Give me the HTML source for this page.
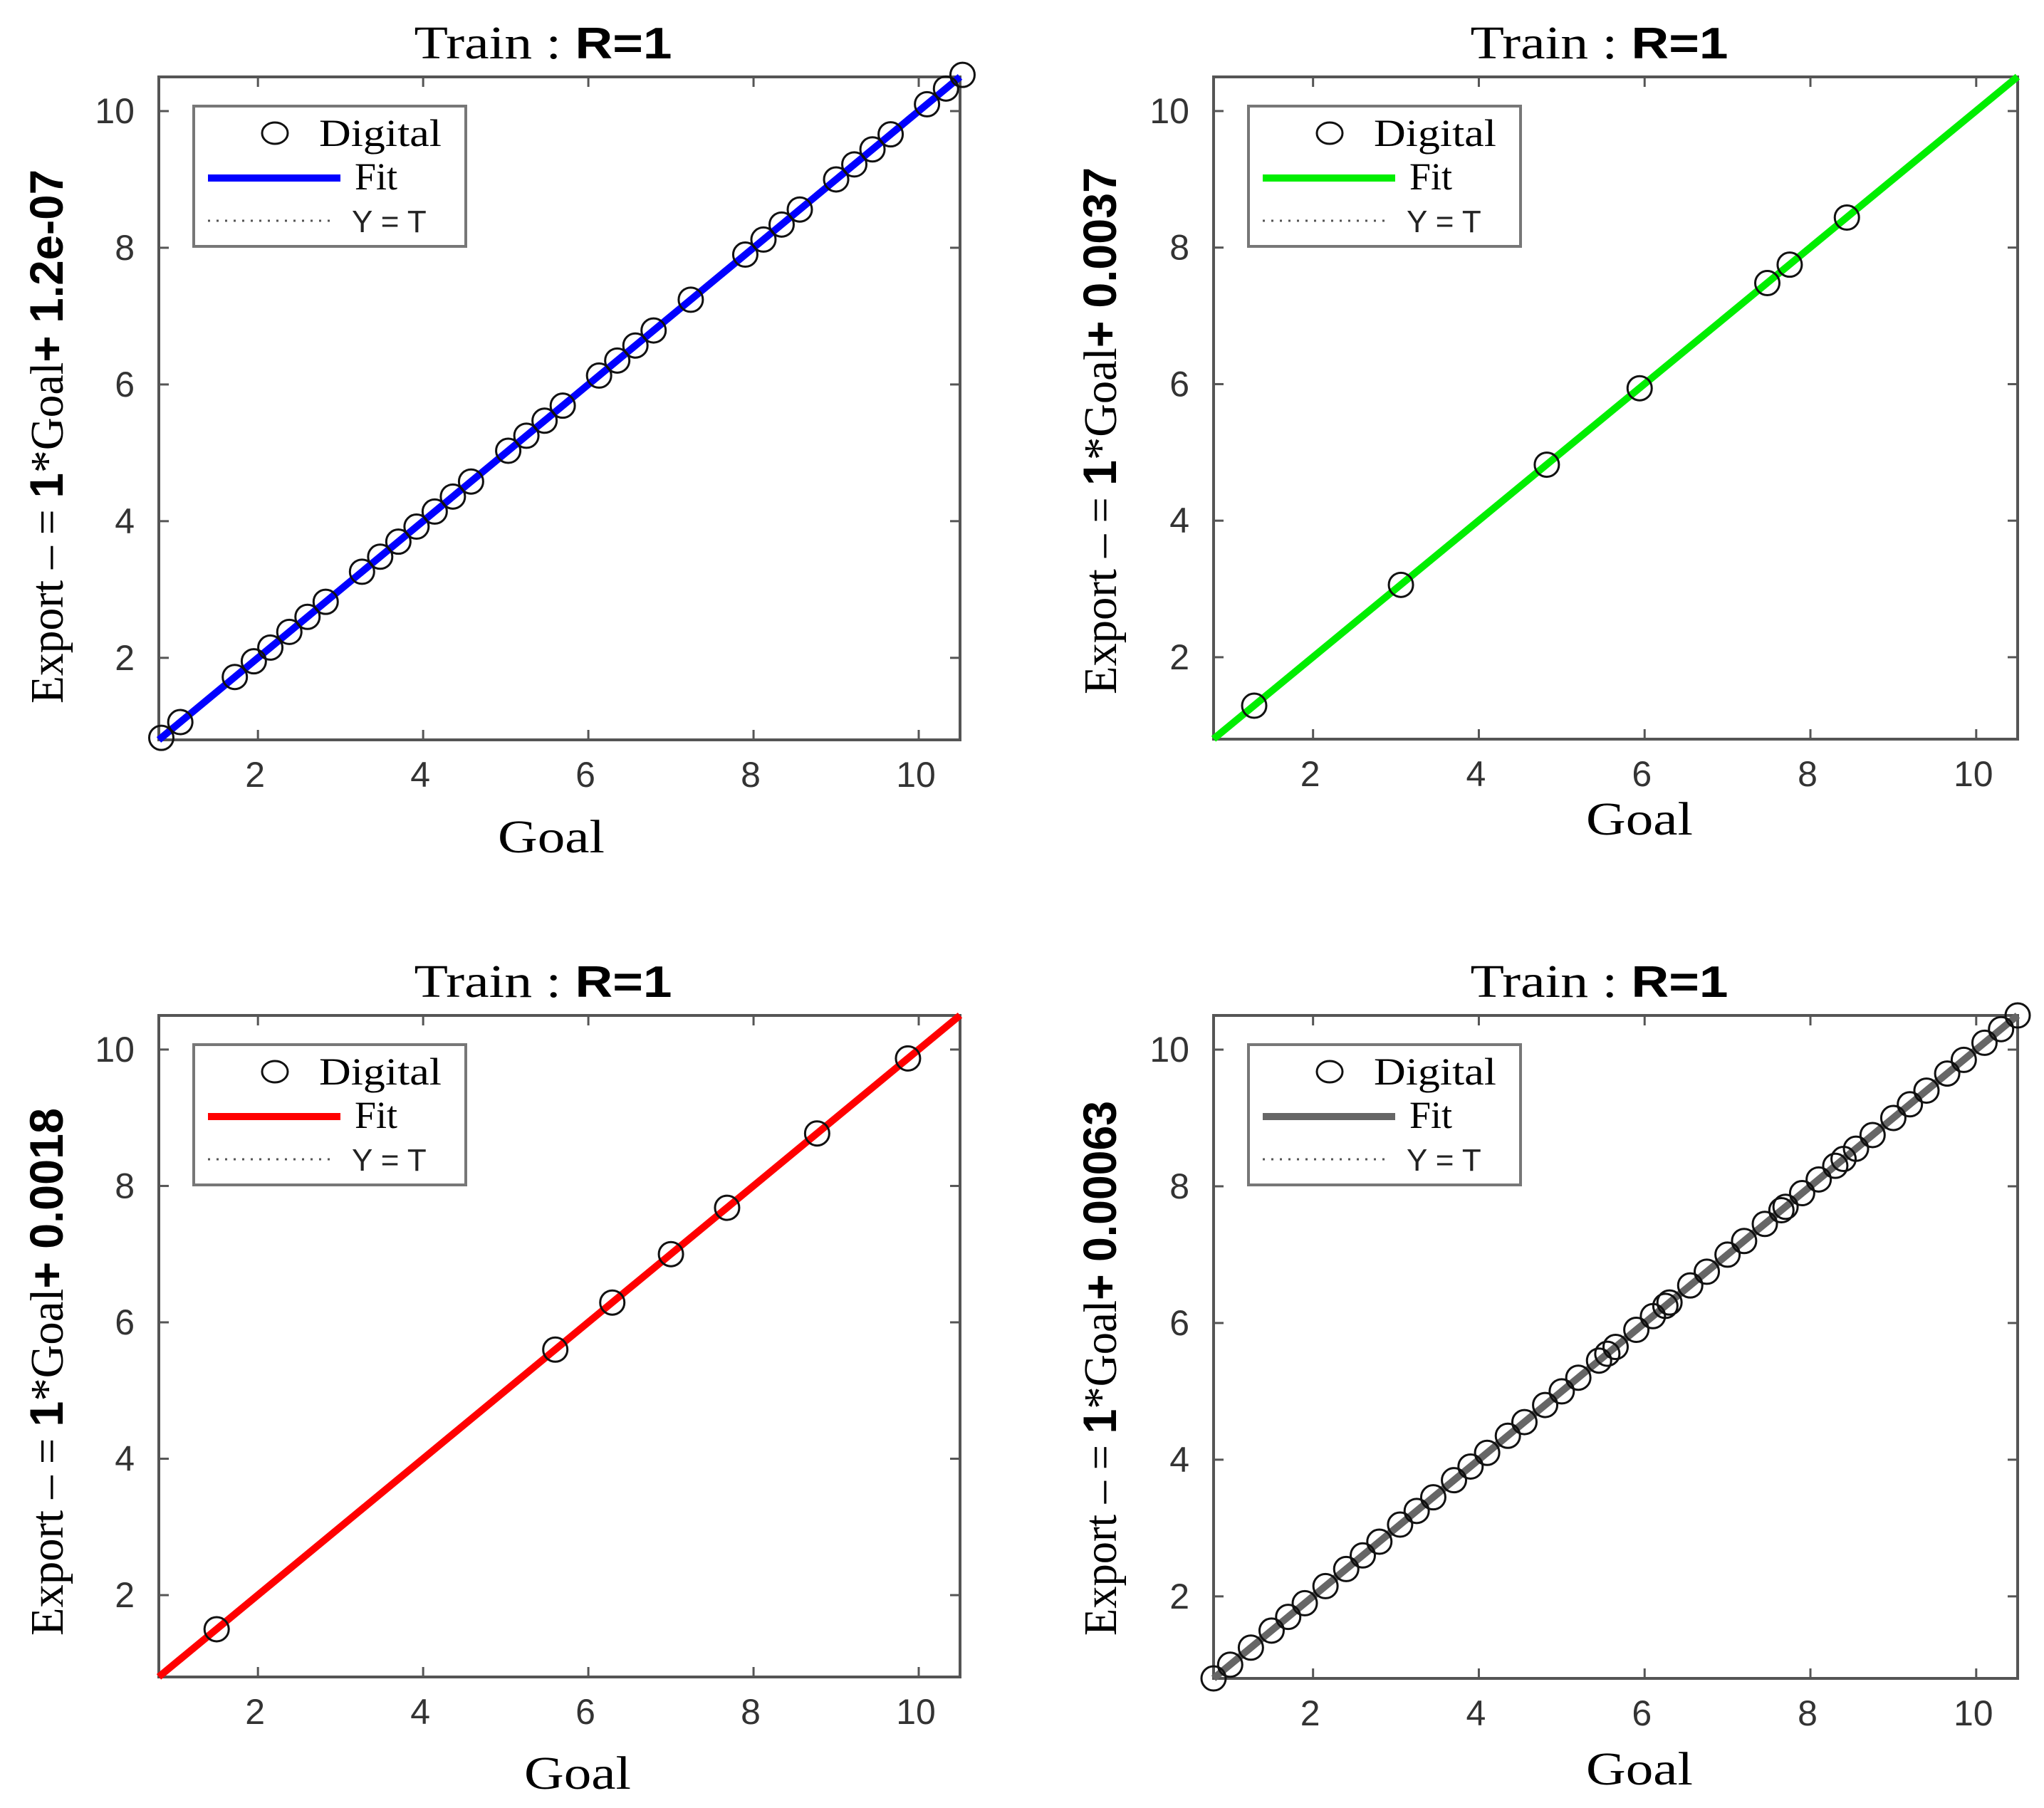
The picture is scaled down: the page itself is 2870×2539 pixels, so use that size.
<!DOCTYPE html>
<html><head><meta charset="utf-8"><style>
html,body{margin:0;padding:0;background:#fff;}
svg{display:block;}
</style></head><body>
<svg id="fig" xmlns="http://www.w3.org/2000/svg" width="2870" height="2539" viewBox="0 0 2870 2539"></svg>
<script>
// ---- data ----
const panelNames = ["top-left","top-right","bottom-left","bottom-right"];
const fitColors = ["#0000ff","#00ee00","#ff0000","#666666"];
const fitSlopes = [1,1,1,1];
const fitIntercepts = [1.2e-7,0.0037,0.0018,0.00063];
const yLabelCoef = ["+ 1.2e-07","+ 0.0037","+ 0.0018","+ 0.00063"];
const xTicks = [2,4,6,8,10];
const yTicks = [2,4,6,8,10];
const tickLabels = ["2","4","6","8","10"];
const xDomain = [0.8,10.5];
const yDomain = [0.8,10.5];
const tlX = [0.83,1.06,1.72,1.95,2.15,2.38,2.6,2.82,3.26,3.48,3.7,3.92,4.14,4.36,4.58,5.03,5.25,5.47,5.69,6.13,6.35,6.57,6.79,7.24,7.9,8.12,8.34,8.56,9.0,9.22,9.44,9.66,10.1,10.33,10.53];
const tlY = [0.83,1.06,1.72,1.95,2.15,2.38,2.6,2.82,3.26,3.48,3.7,3.92,4.14,4.36,4.58,5.03,5.25,5.47,5.69,6.13,6.35,6.57,6.79,7.24,7.9,8.12,8.34,8.56,9.0,9.22,9.44,9.66,10.1,10.33,10.53];
const trX = [1.29,3.06,4.82,5.94,7.48,7.75,8.44];
const trY = [1.29,3.06,4.82,5.94,7.48,7.75,8.44];
const blX = [1.5,5.6,6.29,7.0,7.68,8.77,9.87];
const blY = [1.5,5.6,6.29,7.0,7.68,8.77,9.87];
const brX = [0.8,1.0,1.25,1.5,1.7,1.9,2.15,2.4,2.6,2.8,3.05,3.25,3.45,3.7,3.9,4.1,4.35,4.55,4.8,5.0,5.2,5.45,5.55,5.65,5.9,6.1,6.25,6.3,6.55,6.75,7.0,7.2,7.45,7.65,7.7,7.9,8.1,8.3,8.4,8.55,8.75,9.0,9.2,9.4,9.65,9.85,10.1,10.3,10.5];
const brY = [0.8,1.0,1.25,1.5,1.7,1.9,2.15,2.4,2.6,2.8,3.05,3.25,3.45,3.7,3.9,4.1,4.35,4.55,4.8,5.0,5.2,5.45,5.55,5.65,5.9,6.1,6.25,6.3,6.55,6.75,7.0,7.2,7.45,7.65,7.7,7.9,8.1,8.3,8.4,8.55,8.75,9.0,9.2,9.4,9.65,9.85,10.1,10.3,10.5];
const seriesX = [tlX,trX,blX,brX];
const seriesY = [tlY,trY,blY,brY];

// ---- layout ----
const boxes = [
 {x0:223,x1:1348,y0:108,y1:1039, ylx:64, yly0:238,yly1:988, gx:774,gy:1197},
 {x0:1704,x1:2833,y0:108,y1:1038, ylx:1543,yly0:235,yly1:975, gx:2302,gy:1172},
 {x0:223,x1:1348,y0:1426,y1:2355, ylx:64, yly0:1556,yly1:2297, gx:811,gy:2512},
 {x0:1704,x1:2833,y0:1426,y1:2357, ylx:1543,yly0:1546,yly1:2297, gx:2302,gy:2506}
];
const NS="http://www.w3.org/2000/svg";
const svg=document.getElementById('fig');
function mk(tag,attrs,parent){const e=document.createElementNS(NS,tag);for(const k in attrs)e.setAttribute(k,attrs[k]);(parent||svg).appendChild(e);return e;}
const SERIF='"Liberation Serif", serif', SANS='"Liberation Sans", sans-serif';

boxes.forEach((b,i)=>{
  const g=mk('g',{});
  
  
  const sx=v=>b.x0+(v-xDomain[0])/(xDomain[1]-xDomain[0])*(b.x1-b.x0);
  const sy=v=>b.y1-(v-yDomain[0])/(yDomain[1]-yDomain[0])*(b.y1-b.y0);
  // title
  const t=mk('text',{x:(b.x0+b.x1)/2-23,y:b.y0-26,'text-anchor':'middle','font-size':66,fill:'#000',textLength:362,lengthAdjust:'spacingAndGlyphs'},g);
  
  
  const t1=mk('tspan',{'font-family':SERIF},t); t1.textContent='Train : ';
  const t2=mk('tspan',{'font-family':SANS,'font-weight':'bold','font-size':62},t); t2.textContent='R=1';
  // axes frame
  const fr=mk('rect',{x:b.x0,y:b.y0,width:b.x1-b.x0,height:b.y1-b.y0,fill:'none',stroke:'#555',"stroke-width":4},g);
  
  
  // ticks
  xTicks.forEach((v,k)=>{
    const x=sx(v);
    mk('line',{x1:x,y1:b.y1,x2:x,y2:b.y1-14,stroke:'#555','stroke-width':3},g);
    mk('line',{x1:x,y1:b.y0,x2:x,y2:b.y0+14,stroke:'#555','stroke-width':3},g);
    const tl=mk('text',{x:x-4,y:b.y1+66,'text-anchor':'middle','font-family':SANS,'font-size':50,fill:'#333'},g);
    
    
    tl.textContent=tickLabels[k];
  });
  yTicks.forEach((v,k)=>{
    const y=sy(v);
    mk('line',{x1:b.x0,y1:y,x2:b.x0+14,y2:y,stroke:'#555','stroke-width':3},g);
    mk('line',{x1:b.x1,y1:y,x2:b.x1-14,y2:y,stroke:'#555','stroke-width':3},g);
    const tl=mk('text',{x:b.x0-34,y:y+17,'text-anchor':'end','font-family':SANS,'font-size':50,fill:'#333'},g);
    
    
    tl.textContent=tickLabels[k];
  });
  // Y=T dotted
  const yt=mk('line',{x1:sx(xDomain[0]),y1:sy(xDomain[0]),x2:sx(xDomain[1]),y2:sy(xDomain[1]),stroke:'#444','stroke-width':3,'stroke-dasharray':'3 9'},g);
  
  
  // fit line
  const fl=mk('line',{x1:sx(xDomain[0]),y1:sy(fitSlopes[i]*xDomain[0]+fitIntercepts[i]),x2:sx(xDomain[1]),y2:sy(fitSlopes[i]*xDomain[1]+fitIntercepts[i]),stroke:fitColors[i],'stroke-width':10},g);
  
  
  // points
  seriesX[i].forEach((xv,k)=>{
    const c=mk('circle',{cx:sx(xv),cy:sy(seriesY[i][k]),r:17,fill:'none',stroke:'#111','stroke-width':3},g);
    
    
  });
  // legend
  const lx=b.x0+49, ly=b.y0+41;
  const lg=mk('g',{},g);
  
  
  mk('rect',{x:lx,y:ly,width:382,height:197,fill:'#fff',stroke:'#777','stroke-width':4},lg);
  mk('ellipse',{cx:lx+114,cy:ly+38,rx:18,ry:15,fill:'none',stroke:'#111','stroke-width':3},lg);
  const d=mk('text',{x:lx+176,y:ly+56,'font-family':SERIF,'font-size':54,fill:'#000',textLength:172,lengthAdjust:'spacingAndGlyphs'},lg);
  
  
  d.textContent='Digital';
  mk('line',{x1:lx+20,y1:ly+101,x2:lx+206,y2:ly+101,stroke:fitColors[i],'stroke-width':10},lg);
  const f=mk('text',{x:lx+226,y:ly+117,'font-family':SERIF,'font-size':54,fill:'#000'},lg);
  
  
  f.textContent='Fit';
  mk('line',{x1:lx+20,y1:ly+161,x2:lx+200,y2:ly+161,stroke:'#555','stroke-width':3,'stroke-dasharray':'3 9'},lg);
  const yy=mk('text',{x:lx+222,y:ly+177,'font-family':SANS,'font-size':44,fill:'#222'},lg);
  
  
  yy.textContent='Y = T';
  // x label
  const xl=mk('text',{x:b.gx,y:b.gy,'text-anchor':'middle','font-family':SERIF,'font-size':66,fill:'#000',textLength:150,lengthAdjust:'spacingAndGlyphs'},g);
  
  
  xl.textContent='Goal';
  // y label
  const cy=(b.yly0+b.yly1)/2, bx=b.ylx+24;
  const yl=mk('text',{x:bx,y:cy,'text-anchor':'middle',transform:`rotate(-90 ${bx} ${cy})`,'font-size':66,fill:'#000',textLength:b.yly1-b.yly0,lengthAdjust:'spacingAndGlyphs'},g);
  
  
  const a=mk('tspan',{'font-family':SERIF},yl); a.textContent='Export – = ';
  const bb=mk('tspan',{'font-family':SANS,'font-weight':'bold'},yl); bb.textContent='1';
  const cc=mk('tspan',{'font-family':SERIF},yl); cc.textContent='*Goal';
  const dd=mk('tspan',{'font-family':SANS,'font-weight':'bold'},yl); dd.textContent=yLabelCoef[i];
});
</script>
</body></html>
